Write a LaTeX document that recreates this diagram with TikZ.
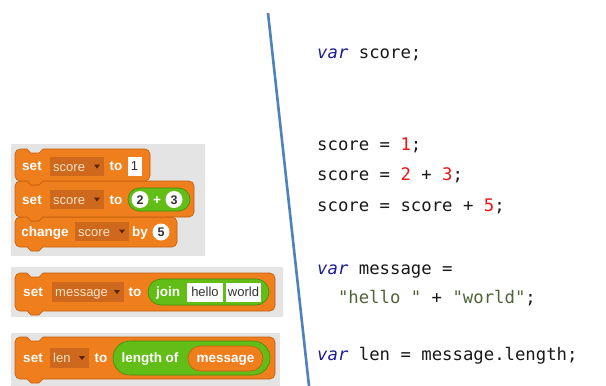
\documentclass[tikz,border=0pt]{standalone}
\usepackage{fontspec}
\newfontfamily\blkfont{Liberation Sans}
\newfontfamily\codefont{DejaVu Sans Mono}
\definecolor{panelgray}{RGB}{228,228,228}
\definecolor{snaporange}{RGB}{239,126,28}
\definecolor{snaporangedark}{RGB}{196,94,14}
\definecolor{slotorange}{RGB}{205,104,28}
\definecolor{slottxt}{RGB}{250,226,196}
\definecolor{slotarrowc}{RGB}{90,35,0}
\definecolor{snapgreen}{RGB}{98,190,22}
\definecolor{snapgreendark}{RGB}{62,140,10}
\definecolor{inputtxt}{RGB}{50,50,50}
\definecolor{kwblue}{RGB}{28,28,150}
\definecolor{numred}{RGB}{232,22,22}
\definecolor{strolive}{RGB}{80,100,55}
\definecolor{codeblack}{RGB}{25,25,25}
\definecolor{divblue}{RGB}{79,129,189}

\tikzset{
  panel/.style={fill=panelgray},
  blk/.style={fill=snaporange, draw=snaporangedark, line width=0.6pt},
  blklabel/.style={font=\blkfont\bfseries\fontsize{13.5}{15}\selectfont, text=white, inner sep=0pt, anchor=base},
  slotfill/.style={fill=slotorange},
  slottext/.style={font=\blkfont\fontsize{13}{15}\selectfont, text=slottxt, inner sep=0pt, anchor=base west},
  slotarrow/.style={fill=slotarrowc},
  greenpill/.style={fill=snapgreen, draw=snapgreendark, line width=0.6pt},
  orangepill/.style={fill=snaporange, draw=snaporangedark, line width=0.6pt},
  inputbox/.style={fill=white},
  inputtext/.style={font=\blkfont\fontsize{13}{15}\selectfont, text=inputtxt, inner sep=0pt, anchor=base},
  numtext/.style={font=\blkfont\bfseries\fontsize{12.5}{14}\selectfont, text=inputtxt, inner sep=0pt, anchor=base},
  codeline/.style={font=\codefont\fontsize{17.3}{20}\selectfont, text=codeblack, inner sep=0pt, anchor=base west},
  divider/.style={draw=divblue, line width=2.6pt},
}

% command block with a notch on top and a tab underneath
\newcommand\cmdblock[4]{%
  \path[blk] (#1,#2+5) arc[start angle=180,end angle=270,radius=5]
    -- (#1+12,#2) -- (#1+16,#2+4) -- (#1+24,#2+4) -- (#1+28,#2)
    -- (#3-5,#2) arc[start angle=270,end angle=360,radius=5]
    -- (#3,#4-5) arc[start angle=0,end angle=90,radius=5]
    -- (#1+28,#4) -- (#1+24,#4+4) -- (#1+16,#4+4) -- (#1+12,#4)
    -- (#1+5,#4) arc[start angle=90,end angle=180,radius=5] -- cycle;}

% variable drop-down slot: name, x1, y1, x2, y2, text
\newcommand\ddslot[6]{%
  \fill[slotfill] (#2,#3) rectangle (#4,#5);
  \node[slottext] (#1) at (#2+3,{(#3+#5)/2+4.5}) {#6};
  \fill[slotarrow] (#4-10,{(#3+#5)/2-2}) -- (#4-4,{(#3+#5)/2-2}) -- (#4-7,{(#3+#5)/2+2}) -- cycle;}

% rounded reporter: style, x1, y1, x2, y2
\newcommand\pill[5]{%
  \path[#1, rounded corners={((#5)-(#3))/2*1pt-0.01pt}] (#2,#3) rectangle (#4,#5);}

\begin{document}
\begin{tikzpicture}[x=1pt,y=-1pt]
\useasboundingbox[fill=white] (0,0) rectangle (606,386);

% ---------- block palettes ----------
\fill[panel] (11,144) rectangle (205,256);
\fill[panel] (11,267) rectangle (283,317);
\fill[panel] (11,333) rectangle (280,386);

% stack: set / set / change
\cmdblock{15}{217}{177}{247}
\cmdblock{15}{181}{194}{217}
\cmdblock{15}{149}{150}{181}

% set score to 1
\node[blklabel] (set1) at (32,170.5) {set};
\ddslot{slot1}{50}{157}{104}{176}{score}
\node[blklabel] (to1) at (116,170.5) {to};
\fill[inputbox] (127.5,157) rectangle (141.5,175.5);
\node[inputtext] (one) at (134.5,170.5) {1};

% set score to 2 + 3
\node[blklabel] (set2) at (32,204) {set};
\ddslot{slot2}{50}{190}{104}{209}{score}
\node[blklabel] (to2) at (116,204) {to};
\pill{greenpill}{128}{188}{190}{211}
\fill[inputbox] (140,199.5) circle[radius=8.5];
\node[numtext] (two) at (140,204) {2};
\node[blklabel] (plus) at (157,204) {+};
\fill[inputbox] (174,199.5) circle[radius=8.5];
\node[numtext] (three) at (174,204) {3};

% change score by 5
\node[blklabel] (chg) at (45,236.5) {change};
\ddslot{slot3}{75}{222}{129}{241}{score}
\node[blklabel] (by) at (140,236.5) {by};
\fill[inputbox] (161,232) circle[radius=8.5];
\node[numtext] (five) at (161,236.5) {5};

% set message to join hello world
\cmdblock{15}{273}{275}{311}
\node[blklabel] (set3) at (33,296.5) {set};
\ddslot{slot4}{52}{282}{124}{302}{message}
\node[blklabel] (to3) at (135,296.5) {to};
\pill{greenpill}{148}{279}{269}{305}
\node[blklabel] (join) at (168,296.5) {join};
\fill[inputbox] (187,283) rectangle (223,302);
\node[inputtext] (hello) at (205,296.5) {hello};
\fill[inputbox] (226,283) rectangle (261,302);
\node[inputtext] (world) at (243.5,296.5) {world};

% set len to length of message
\cmdblock{15}{337}{275}{379}
\node[blklabel] (set4) at (33,362.5) {set};
\ddslot{slot5}{50}{348}{89}{368}{len}
\node[blklabel] (to4) at (101,362.5) {to};
\pill{greenpill}{113}{341}{270}{375}
\node[blklabel] (lenof) at (150,362.5) {length of};
\pill{orangepill}{188}{346}{263}{371}
\node[blklabel] (msg) at (225.5,362.5) {message};

% ---------- divider ----------
\coordinate (divtop) at (268,13);
\coordinate (divbot) at (309,386);
\draw[divider] (divtop) -- (divbot);

% ---------- JavaScript ----------
\node[codeline] (c1) at (317,58) {{\color{kwblue}\itshape var} score;};
\node[codeline] (c2) at (317,150) {score = {\color{numred}1};};
\node[codeline] (c3) at (317,180) {score = {\color{numred}2} + {\color{numred}3};};
\node[codeline] (c4) at (317,211) {score = score + {\color{numred}5};};
\node[codeline] (c5) at (317,274) {{\color{kwblue}\itshape var} message =};
\node[codeline] (c6) at (337.8,303) {{\color{strolive}"hello "} + {\color{strolive}"world"};};
\node[codeline] (c7) at (317,360) {{\color{kwblue}\itshape var} len = message.length;};
\end{tikzpicture}
\end{document}
